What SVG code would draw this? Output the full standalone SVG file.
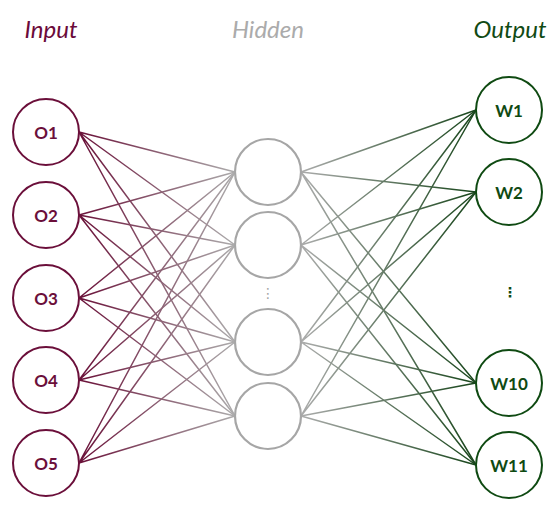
<svg xmlns="http://www.w3.org/2000/svg" width="550" height="514" viewBox="0 0 550 514">
<defs>
<linearGradient id="gIn" gradientUnits="userSpaceOnUse" x1="79" y1="0" x2="235" y2="0">
<stop offset="0" stop-color="#6a1038"/>
<stop offset="1" stop-color="#acacac"/>
</linearGradient>
<linearGradient id="gOut" gradientUnits="userSpaceOnUse" x1="301" y1="0" x2="476" y2="0">
<stop offset="0" stop-color="#acacac"/>
<stop offset="1" stop-color="#17451a"/>
</linearGradient>
<style>
.title{font-family:Lato,"Open Sans","Liberation Sans",sans-serif;font-style:italic;font-size:24px;text-anchor:middle}
.lbl{font-family:Lato,"Open Sans","Liberation Sans",sans-serif;font-weight:bold;font-size:17px;text-anchor:middle;dominant-baseline:central}
.in circle{fill:#fff;stroke:#6b0f3a;stroke-width:2}
.in text{fill:#6b0f3a}
.hid circle{fill:#fff;stroke:#a6a6a6;stroke-width:2.2}
.out circle{fill:#fff;stroke:#0f4a12;stroke-width:2}
.out text{fill:#0f4a12}
.dots{font-family:"DejaVu Sans",sans-serif;text-anchor:middle;dominant-baseline:central}
</style>
</defs>
<g id="titles">
<text class="title" x="51" y="38" fill="#6b0a3a">Input</text>
<text class="title" x="268" y="38" fill="#ababab">Hidden</text>
<text class="title" x="510" y="38" fill="#114a14">Output</text>
</g>
<g id="connectors" fill="none" stroke-width="1.5">
<g stroke="url(#gIn)">
<path d="M79 132L235 172M79 132L235 245M79 132L235 342M79 132L235 416"/>
<path d="M79 215L235 172M79 215L235 245M79 215L235 342M79 215L235 416"/>
<path d="M79 298L235 172M79 298L235 245M79 298L235 342M79 298L235 416"/>
<path d="M79 380L235 172M79 380L235 245M79 380L235 342M79 380L235 416"/>
<path d="M79 463L235 172M79 463L235 245M79 463L235 342M79 463L235 416"/>
</g>
<g stroke="url(#gOut)">
<path d="M301 172L476 110M301 172L476 192M301 172L476 383M301 172L476 465"/>
<path d="M301 245L476 110M301 245L476 192M301 245L476 383M301 245L476 465"/>
<path d="M301 342L476 110M301 342L476 192M301 342L476 383M301 342L476 465"/>
<path d="M301 416L476 110M301 416L476 192M301 416L476 383M301 416L476 465"/>
</g>
</g>
<g id="O1" class="in"><circle cx="46" cy="132" r="33"/><text class="lbl" x="46" y="132">O1</text></g>
<g id="O2" class="in"><circle cx="46" cy="215" r="33"/><text class="lbl" x="46" y="215">O2</text></g>
<g id="O3" class="in"><circle cx="46" cy="298" r="33"/><text class="lbl" x="46" y="298">O3</text></g>
<g id="O4" class="in"><circle cx="46" cy="380" r="33"/><text class="lbl" x="46" y="380">O4</text></g>
<g id="O5" class="in"><circle cx="46" cy="463" r="33"/><text class="lbl" x="46" y="463">O5</text></g>
<g id="H1" class="hid"><circle cx="268" cy="172" r="33"/></g>
<g id="H2" class="hid"><circle cx="268" cy="245" r="33"/></g>
<g id="H3" class="hid"><circle cx="268" cy="342" r="33"/></g>
<g id="H4" class="hid"><circle cx="268" cy="416" r="33"/></g>
<text class="dots" x="268" y="293" font-size="14" fill="#a6a6a6">⋮</text>
<g id="W1" class="out"><circle cx="509" cy="110" r="33"/><text class="lbl" x="509" y="110">W1</text></g>
<g id="W2" class="out"><circle cx="509" cy="192" r="33"/><text class="lbl" x="509" y="192">W2</text></g>
<text class="dots" x="510" y="292" font-size="14" font-weight="bold" fill="#0f4a12">⋮</text>
<g id="W10" class="out"><circle cx="509" cy="383" r="33"/><text class="lbl" x="509" y="383">W10</text></g>
<g id="W11" class="out"><circle cx="509" cy="465" r="33"/><text class="lbl" x="509" y="465">W11</text></g>
</svg>
